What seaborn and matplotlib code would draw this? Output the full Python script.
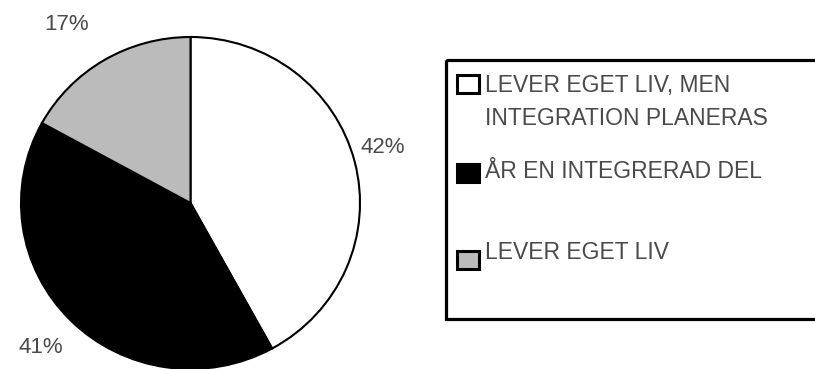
import matplotlib
matplotlib.use("Agg")
import matplotlib.pyplot as plt
from matplotlib.patches import Rectangle
import numpy as np
import seaborn as sns

# ---- data ----
categories = ["LEVER EGET LIV, MEN\nINTEGRATION PLANERAS", "ÅR EN INTEGRERAD DEL", "LEVER EGET LIV"]
values = [42, 41, 17]
pct_labels = ["42%", "41%", "17%"]

# ---- style ----
colors = ["#ffffff", "#000000", "#bbbbbb"]
text_color = "#4a4a4a"

sns.set_theme(style="white")
plt.rcParams["font.family"] = ["Liberation Sans", "DejaVu Sans"]

W, H = 815, 369
fig = plt.figure(figsize=(W / 100, H / 100), dpi=100)
fig.patch.set_facecolor("white")

# pie axes (pixel layout)
px_left, px_right, px_top, px_bottom = 21, 360, 37, 369
ax = fig.add_axes([px_left / W, (H - px_bottom) / H,
                   (px_right - px_left) / W, (px_bottom - px_top) / H])
wedges, _ = ax.pie(values, colors=colors, startangle=90, counterclock=False,
                   wedgeprops=dict(edgecolor="black", linewidth=1.5))
ax.set_aspect("auto")
ax.set_xlim(-1, 1)
ax.set_ylim(-1, 1)
ax.axis("off")

# percentage labels placed outside each wedge
label_dist = [1.18, 1.24, 1.30]
label_shift = [2.0, -0.5, 3.5]  # degrees
for w, lab, d, s in zip(wedges, pct_labels, label_dist, label_shift):
    ang = np.deg2rad((w.theta1 + w.theta2) / 2 + s)
    ax.text(d * np.cos(ang), d * np.sin(ang), lab, ha="center", va="center",
            fontsize=16, color=text_color, clip_on=False)

# legend drawn in pixel coordinates
lax = fig.add_axes([0, 0, 1, 1], zorder=5)
lax.set_xlim(0, W)
lax.set_ylim(H, 0)
lax.axis("off")
lax.patch.set_alpha(0)

lax.add_patch(Rectangle((445.5, 60), 400, 258.5, fill=False,
                        edgecolor="black", linewidth=2.3, clip_on=False))

handle_y = [84, 172.5, 259.5]
text_y = [125, 178, 259]   # baseline of the last line of each label
for c, lab, hy, ty in zip(colors, categories, handle_y, text_y):
    lax.add_patch(Rectangle((456.5, hy - 9), 22, 18, facecolor=c,
                            edgecolor="black", linewidth=2.2))
    lax.text(485, ty, lab, ha="left", va="baseline", fontsize=16.5,
             color=text_color, linespacing=1.55)

fig.savefig("out.png", dpi=100, facecolor="white")
